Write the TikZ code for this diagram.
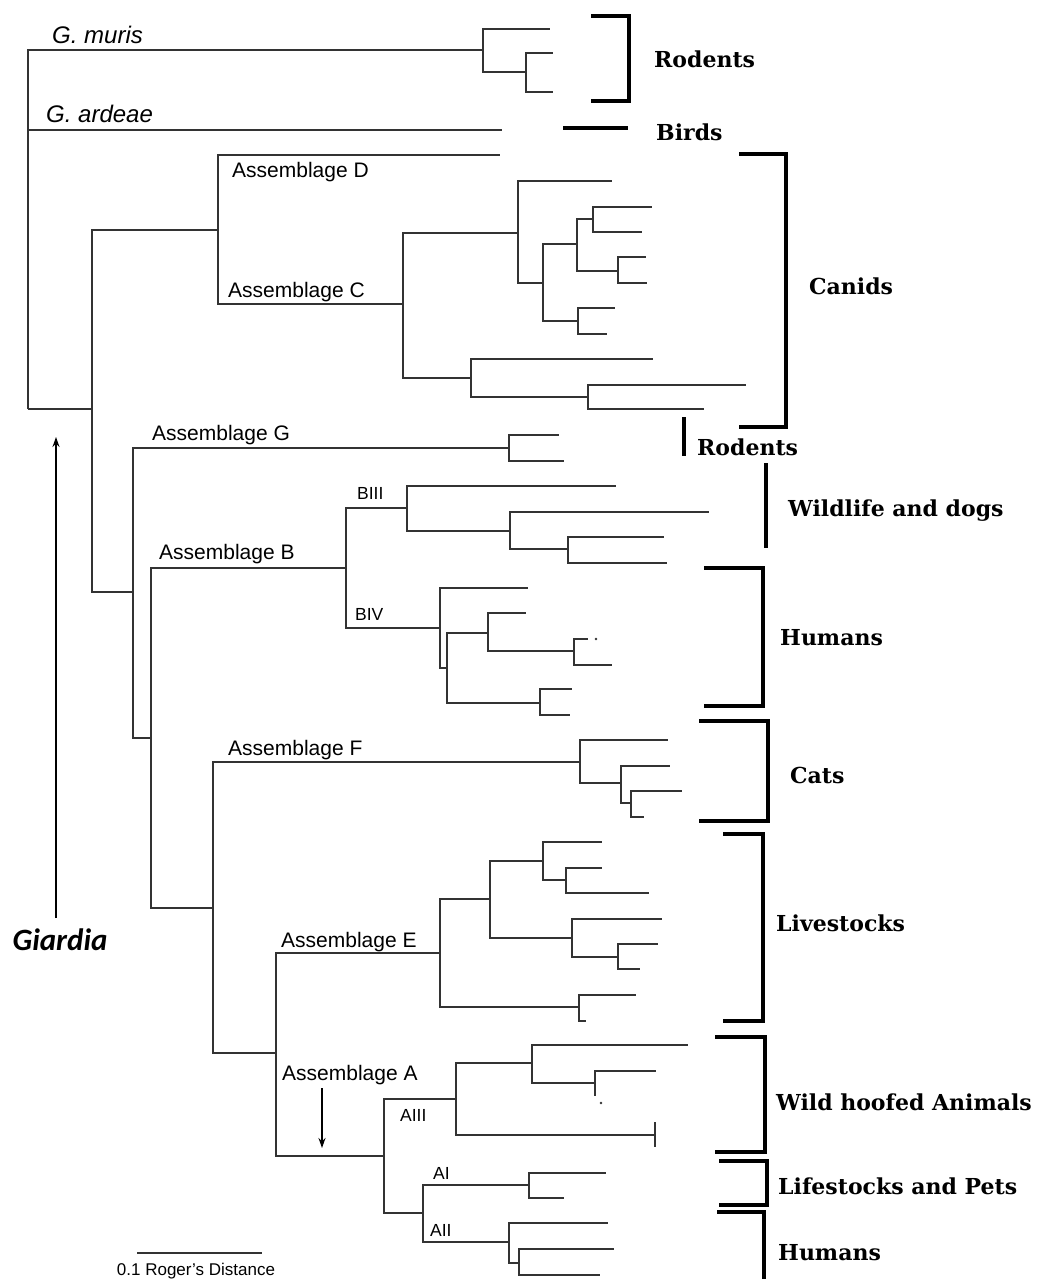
\documentclass[tikz,border=0pt]{standalone}
\usepackage{fontspec}
\setmainfont{Liberation Sans}
\newfontfamily\hostfont{DejaVu Serif}
\newfontfamily\genusfont{Carlito}
\usetikzlibrary{arrows.meta}
\tikzset{
    branch/.style = {draw=black!80, line width=2.2pt},
    bracket/.style = {draw=black, line width=4pt},
    pointer/.style = {draw=black, line width=1.5pt, -{Stealth[length=10pt,width=7pt]}},
    clade/.style = {inner sep=0pt, anchor=base west, font=\fontsize{21}{25}\selectfont},
    subclade/.style = {inner sep=0pt, anchor=base west, font=\fontsize{17.5}{21}\selectfont},
    species/.style = {inner sep=0pt, anchor=base west, font=\fontsize{24}{28}\selectfont\itshape},
    host/.style = {inner sep=0pt, anchor=base west, font=\hostfont\bfseries\fontsize{22}{26}\selectfont},
    genus/.style = {inner sep=0pt, font=\genusfont\bfseries\itshape\fontsize{31}{36}\selectfont},
    scaletext/.style = {inner sep=0pt, font=\fontsize{17}{20}\selectfont}
}

\begin{document}
\begin{tikzpicture}[x=1pt,y=-1pt]
\useasboundingbox (0,0) rectangle (1040,1279);
% internal nodes: x of the bar, y where the parent joins
\foreach \n/\x/\y in {root/28/409, mur/483/50, mur2/526/72, core/92/409,
    cd/218/230, cc/403/304, c1/518/233, c11/543/283, c111/577/244,
    c1111/593/219, c1112/618/271, c112/578/321, c2/471/378, c21/588/397,
    gb/133/592, gg/509/448, rest/151/738, bb/346/568, b3/407/508,
    b31/510/531, b311/568/549, b4/440/628, b41/447/668, b411/488/633,
    b4111/574/651, b412/540/703, fea/213/908, ff/580/762, f1/621/783,
    f11/631/803, ea/276/1053, ee/440/953, e1/490/899, e11/543/861,
    e111/566/880, e12/572/938, e121/618/957, e2/579/1007, aa/384/1156,
    a3/456/1099, a31/532/1063, a311/595/1083, a12/423/1213, a1/529/1185,
    a2/509/1242, a21/519/1263}
  \coordinate (\n) at (\x,\y);
% tips
\foreach \n/\x/\y in {tm1/550/29, tm2/553/53, tm3/553/92, tar/502/130,
    td/500/155, tc1/612/181, tc2/652/207, tc3/642/232, tc4/646/257,
    tc5/647/283, tc6/615/308, tc7/607/334, tc8/653/359, tc9/746/385,
    tc10/704/409, tg1/559/435, tg2/564/461, tb1/616/486, tb2/709/512,
    tb3/664/537, tb4/667/563, tb5/528/588, tb6/526/613, tb7/588/639,
    tb8/612/665, tb9/572/689, tb10/570/715, tf1/668/740, tf2/670/766,
    tf3/682/791, tf4/644/817, te1/602/842, te2/602/868, te3/649/893,
    te4/662/919, te5/658/944, te6/640/969, te7/636/995, te8/586/1021,
    ta1/688/1045, ta2/656/1071, ta3/595/1096, ta4/655/1135, ta5/606/1173,
    ta6/564/1198, ta7/608/1223, ta8/614/1249, ta9/600/1275}
  \coordinate (\n) at (\x,\y);
% the tree
\foreach \p/\kids in {root/{mur,tar,core}, mur/{tm1,mur2}, mur2/{tm2,tm3},
    core/{cd,gb}, cd/{td,cc}, cc/{c1,c2}, c1/{tc1,c11}, c11/{c111,c112},
    c111/{c1111,c1112}, c1111/{tc2,tc3}, c1112/{tc4,tc5}, c112/{tc6,tc7},
    c2/{tc8,c21}, c21/{tc9,tc10}, gb/{gg,rest}, gg/{tg1,tg2}, rest/{bb,fea},
    bb/{b3,b4}, b3/{tb1,b31}, b31/{tb2,b311}, b311/{tb3,tb4}, b4/{tb5,b41},
    b41/{b411,b412}, b411/{tb6,b4111}, b4111/{tb7,tb8}, b412/{tb9,tb10},
    fea/{ff,ea}, ff/{tf1,f1}, f1/{tf2,f11}, f11/{tf3,tf4}, ea/{ee,aa},
    ee/{e1,e2}, e1/{e11,e12}, e11/{te1,e111}, e111/{te2,te3}, e12/{te4,e121},
    e121/{te5,te6}, e2/{te7,te8}, aa/{a3,a12}, a3/{a31,ta4}, a31/{ta1,a311},
    a311/{ta2,ta3}, a12/{a1,a2}, a1/{ta5,ta6}, a2/{ta7,a21}, a21/{ta8,ta9}}
  \foreach \k in \kids
    \draw[branch] (\p) |- (\k);
\draw[branch] ([yshift=13pt]ta4) -- ([yshift=-12pt]ta4);
\fill[black!80] ([xshift=8pt]tb7) circle (1.3pt);
\fill[black!80] ([xshift=6pt,yshift=-7pt]ta3) circle (1.3pt);

% labels on the tree
\node[species] (muris) at (52,44) {G. muris};
\node[species] (ardeae) at (46,123) {G. ardeae};
\node[clade] (labD) at (232,177) {Assemblage D};
\node[clade] (labC) at (228,297) {Assemblage C};
\node[clade] (labG) at (152,440) {Assemblage G};
\node[clade] (labB) at (159,559) {Assemblage B};
\node[clade] (labF) at (228,755) {Assemblage F};
\node[clade] (labE) at (281,947) {Assemblage E};
\node[clade] (labA) at (282,1080) {Assemblage A};
\node[subclade] (labB3) at (357,499) {BIII};
\node[subclade] (labB4) at (355,620) {BIV};
\node[subclade] (labA3) at (400,1121) {AIII};
\node[subclade] (labA1) at (433,1179) {AI};
\node[subclade] (labA2) at (430,1236) {AII};

% arrows
\node[genus] (giardia) at (60,940) {Giardia};
\coordinate (gfoot) at (56,918);
\coordinate (gtip) at (56,437);
\draw[pointer] (gfoot) -- (gtip);
\coordinate (afoot) at (322,1088);
\coordinate (atip) at (322,1148);
\draw[pointer] (afoot) -- (atip);

% scale bar
\coordinate (sbl) at (137,1253);
\coordinate (sbr) at (262,1253);
\draw[branch] (sbl) -- (sbr);
\node[scaletext] (scale) at (196,1271) {0.1 Roger's Distance};

% hosts
\draw[bracket] (591,16) -| (629,101) -- (591,101);
\draw[bracket] (563,128) -- (628,128);
\draw[bracket] (739,154) -| (786,427) -- (739,427);
\draw[bracket] (684,417) -- (684,456);
\draw[bracket] (766,463) -- (766,548);
\draw[bracket] (704,568) -| (763,706) -- (704,706);
\draw[bracket] (699,721) -| (768,821) -- (699,821);
\draw[bracket] (723,834) -| (763,1021) -- (723,1021);
\draw[bracket] (715,1037) -| (765,1152) -- (715,1152);
\draw[bracket] (719,1161) -| (767,1205) -- (719,1205);
\draw[bracket] (717,1212) -| (764,1285);
\node[host] (h1) at (654,68) {Rodents};
\node[host] (h2) at (656,141) {Birds};
\node[host] (h3) at (809,294) {Canids};
\node[host] (h4) at (697,455) {Rodents};
\node[host] (h5) at (788,516) {Wildlife and dogs};
\node[host] (h6) at (780,645) {Humans};
\node[host] (h7) at (790,783) {Cats};
\node[host] (h8) at (776,931) {Livestocks};
\node[host] (h9) at (776,1110) {Wild hoofed Animals};
\node[host] (h10) at (778,1194) {Lifestocks and Pets};
\node[host] (h11) at (778,1260) {Humans};
\end{tikzpicture}
\end{document}
